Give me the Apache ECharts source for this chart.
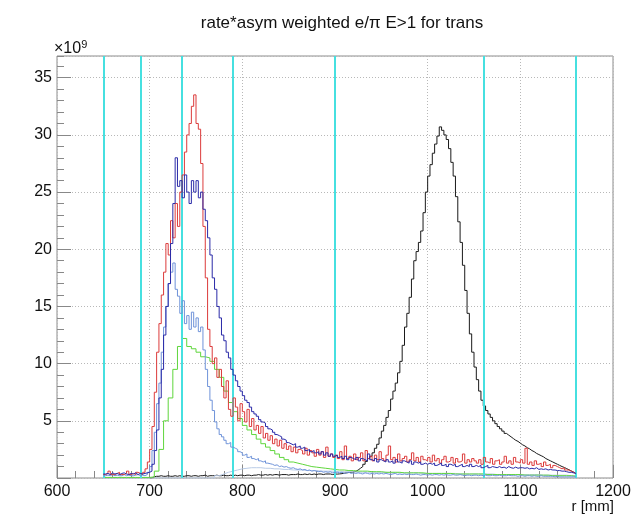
<!DOCTYPE html>
<html>
<head>
<meta charset="utf-8">
<script src="https://cdn.jsdelivr.net/npm/echarts@6/dist/echarts.min.js"></script>
<style>
html,body{margin:0;padding:0;background:#fff;}
#chart{width:636px;height:516px;}
</style>
</head>
<body>
<div id="chart"></div>
<script>
// ---- Data (values in units of 1e9) ----
// Fine histograms: 2.5 mm bins from 650 to 1160 mm
const fineStart = 650;
const fineWidth = 2.5;
const fineEnd = 1160;

const redVals = [
0.3,0.4,0.6,0.3,0.3,0.4,0.5,0.3,0.3,0.4,0.6,0.3,0.4,0.3,0.5,0.4,0.3,0.5,0.8,1.4,
2.5,4.5,7.5,11.0,13.5,16.0,18.0,20.5,19.5,22.5,21.0,24.0,22.0,25.0,26.5,28.5,30.0,31.0,32.5,33.5,31.0,30.5,27.5,22.0,
17.5,13.0,11.5,10.0,10.5,8.8,9.5,8.0,7.0,8.5,6.0,5.4,7.0,6.2,5.0,6.5,
5.8,4.9,6.0,4.5,5.2,4.2,4.6,3.9,4.5,3.5,3.9,3.3,3.7,3.0,3.4,2.8,3.3,2.6,3.0,2.5,
2.8,2.3,2.7,2.2,2.5,2.4,2.1,2.6,2.0,2.4,2.2,1.9,2.5,2.0,2.3,1.8,2.7,1.9,2.1,1.8,
2.0,1.7,2.3,1.6,2.8,1.7,1.9,1.5,2.1,1.6,1.8,2.2,1.5,2.4,1.7,1.9,1.5,2.0,1.6,2.3,
1.7,1.5,2.0,2.8,1.6,1.8,1.4,2.1,1.5,1.7,1.9,1.4,1.6,2.2,1.5,1.8,1.4,1.9,1.6,1.5,
1.8,1.4,2.0,1.5,1.7,1.3,1.6,1.9,1.4,1.5,1.8,1.3,1.7,1.4,1.5,2.1,1.3,1.6,1.4,1.7,
1.5,1.3,1.6,1.2,1.8,1.4,1.3,1.7,1.2,1.5,1.6,1.2,1.4,1.9,1.3,1.5,1.2,1.8,1.4,1.3,
1.6,1.3,2.6,1.2,1.4,1.1,1.5,1.2,1.3,1.0,1.4,1.1,1.2,0.9,1.1,1.0,0.9,0.8,0.9,0.7,0.7,0.6,0.5,0.4
];

const navyVals = [
0.35,0.4,0.3,0.45,0.35,0.4,0.3,0.4,0.45,0.35,0.3,0.4,0.35,0.45,0.3,0.4,0.35,0.4,0.45,0.5,
0.6,1.2,2.4,4.2,7.0,9.5,12.5,15.0,17.0,20.5,24.0,28.0,25.5,26.0,24.5,26.5,25.0,24.0,26.0,25.0,26.0,24.5,25.0,23.5,
22.5,21.0,19.5,17.5,16.5,15.0,14.0,12.5,12.0,11.0,10.5,9.5,9.0,8.5,8.0,7.6,
7.2,6.8,6.6,6.2,5.8,5.6,5.4,5.1,4.9,4.8,4.5,4.3,4.2,4.0,3.8,3.7,3.6,3.4,3.3,3.1,
3.0,2.9,3.0,2.7,2.8,2.6,2.7,2.4,2.5,2.3,2.4,2.2,2.3,2.1,2.3,2.0,2.2,1.9,2.1,1.9,
2.0,1.8,1.9,1.7,1.9,1.6,1.8,1.7,1.6,1.8,1.5,1.7,1.6,1.5,2.1,1.6,1.5,1.7,1.4,1.6,
1.5,1.4,1.6,1.4,1.5,1.3,1.6,1.4,1.3,1.5,1.4,1.3,1.5,1.2,1.4,1.3,1.4,1.2,1.3,1.2,
1.3,1.2,1.3,1.1,1.2,1.3,1.1,1.2,1.0,1.2,1.1,1.2,1.0,1.1,1.2,1.0,1.1,1.0,1.2,1.0,
1.1,1.0,1.1,0.9,1.0,1.1,0.9,1.0,0.95,0.9,1.0,0.9,0.95,0.85,1.0,0.9,0.85,0.95,0.85,0.9,
0.9,0.85,0.9,0.8,0.85,0.8,0.9,0.75,0.8,0.75,0.8,0.7,0.75,0.7,0.7,0.65,0.65,0.6,0.6,0.55,0.5,0.5,0.45,0.4
];

const cornflowerVals = [
0.2,0.25,0.2,0.3,0.2,0.25,0.2,0.2,0.3,0.2,0.25,0.2,0.2,0.25,0.3,0.2,0.25,0.2,0.3,0.5,
1.0,2.4,4.0,6.5,8.3,11.0,13.2,15.0,17.0,18.0,18.8,16.5,15.9,14.4,15.5,13.5,14.2,13.0,14.5,13.2,14.0,12.8,13.2,11.2,
9.5,8.0,6.8,5.9,4.9,4.3,3.8,3.6,3.3,3.0,3.1,2.7,2.6,2.5,2.3,2.2,
2.0,2.1,1.8,1.9,1.7,1.6,1.7,1.5,1.4,1.5,1.3,1.25,1.2,1.1,1.15,1.0,1.05,0.95,1.0,0.9,
0.85,0.9,0.8,0.75,0.8,0.7,0.75,0.65,0.7,0.6,0.65,0.6,0.55,0.6,0.5,0.55,0.5,0.55,0.45,0.5,
0.5,0.45,0.5,0.4,0.45,0.5,0.4,0.45,0.4,0.45,0.4,0.35,0.45,0.4,0.35,0.4,0.35,0.4,0.35,0.4,
0.35,0.4,0.35,0.3,0.35,0.4,0.3,0.35,0.3,0.35,0.3,0.35,0.3,0.3,0.35,0.3,0.25,0.3,0.3,0.25,
0.3,0.25,0.3,0.3,0.25,0.3,0.25,0.3,0.25,0.25,0.3,0.25,0.25,0.3,0.25,0.2,0.25,0.25,0.2,0.25,
0.25,0.2,0.25,0.2,0.25,0.2,0.2,0.25,0.2,0.2,0.25,0.2,0.2,0.2,0.25,0.2,0.2,0.2,0.15,0.2,
0.2,0.15,0.2,0.2,0.15,0.2,0.15,0.15,0.2,0.15,0.15,0.15,0.15,0.15,0.1,0.15,0.1,0.1,0.1,0.1,0.1,0.1,0.1,0.1
];

// Coarse histograms: 5 mm bins from 650 to 1160 mm
const coarseStart = 650;
const coarseWidth = 5;
const coarseEnd = 1160;

const greenVals = [
0.05,0.05,0.05,0.05,0.05,0.05,0.05,0.05,0.05,0.05,
0.1,0.6,2.5,5.0,7.0,9.5,11.5,12.2,11.5,11.3,
11.0,10.6,10.5,10.2,9.5,8.8,7.6,6.6,5.8,5.2,
4.6,4.2,3.8,3.4,3.0,2.7,2.4,2.1,1.8,1.6,
1.4,1.3,1.2,1.1,1.0,0.95,0.9,0.85,0.8,0.75,
0.7,0.7,0.65,0.65,0.6,0.6,0.6,0.55,0.55,0.55,
0.5,0.5,0.5,0.5,0.45,0.45,0.45,0.45,0.45,0.4,
0.4,0.4,0.4,0.4,0.4,0.35,0.35,0.35,0.35,0.35,
0.35,0.35,0.3,0.3,0.3,0.3,0.3,0.3,0.3,0.3,
0.25,0.25,0.25,0.25,0.25,0.25,0.2,0.2,0.2,0.2,
0.2,0.15
];

const paleVals = [
0,0,0,0,0,0,0,0,0,0,
0,0,0,0,0,0,0,0,0,0,
0,0,0,0,0.2,0.35,0.5,0.6,0.7,0.8,
0.85,0.9,0.9,0.9,0.85,0.85,0.8,0.8,0.75,0.75,
0.7,0.7,0.7,0.65,0.65,0.65,0.6,0.6,0.6,0.6,
0.55,0.55,0.55,0.55,0.5,0.5,0.5,0.5,0.5,0.5,
0.5,0.45,0.45,0.45,0.45,0.45,0.45,0.45,0.4,0.4,
0.4,0.4,0.4,0.4,0.4,0.4,0.35,0.35,0.35,0.35,
0.35,0.35,0.35,0.35,0.3,0.3,0.3,0.3,0.3,0.3,
0.3,0.3,0.3,0.3,0.25,0.25,0.25,0.25,0.25,0.25,
0.2,0.2
];

// Black histogram: 2.5 mm bins from 700 to 1160 mm
const blackStart = 700;
const blackWidth = 2.5;
const blackEnd = 1160;
const blackVals = [
0,0.1,0.15,0.15,0.2,0.15,0.15,0.2,0.15,0.15,
0.2,0.15,0.2,0.15,0.15,0.2,0.2,0.15,0.2,0.2,
0.15,0.2,0.2,0.25,0.15,0.2,0.2,0.2,0.25,0.2,
0.2,0.25,0.2,0.2,0.25,0.2,0.25,0.2,0.25,0.25,
0.2,0.25,0.25,0.2,0.25,0.25,0.3,0.25,0.25,0.3,
0.25,0.3,0.25,0.3,0.3,0.25,0.3,0.3,0.3,0.25,
0.3,0.3,0.3,0.35,0.3,0.3,0.35,0.3,0.35,0.3,
0.35,0.3,0.35,0.35,0.3,0.35,0.35,0.35,0.3,0.35,
0.34,0.36,0.38,0.42,0.45,0.48,0.5,0.53,0.58,0.7,
0.85,1.0,1.2,1.45,1.7,1.9,2.2,2.6,2.95,3.5,
4.1,4.6,5.3,5.9,6.9,7.6,8.3,9.2,10.2,11.6,
13.2,14.4,15.8,17.4,19.0,19.8,20.6,21.6,23.2,25.0,
26.4,27.4,28.4,29.2,29.9,30.7,30.4,30.0,29.6,28.8,
27.6,26.4,24.6,22.4,20.6,18.6,16.4,14.4,12.6,11.0,
9.7,8.6,7.6,6.8,6.3,5.9,5.6,5.3,5.0,4.75,
4.5,4.3,4.1,3.9,3.75,3.6,3.45,3.3,3.2,3.05,
2.9,2.8,2.65,2.55,2.4,2.3,2.15,2.05,1.95,1.85,
1.7,1.6,1.5,1.4,1.3,1.2,1.1,1.0,0.92,0.82,
0.72,0.62,0.52,0.42
];

// Vertical cut lines (mm)
const cutLines = [650, 690, 735, 790, 900, 1060, 1160];

// Axis settings
const xMin = 600, xMax = 1200, xStep = 100, xMinorStep = 20;
const yMin = 0, yMax = 36.9, yStep = 5, yMinorStep = 1;

const titleText = 'rate*asym weighted e/π E>1 for trans';
const xTitle = 'r [mm]';

// ---- Build histogram outlines ----
function histData(vals, start, width, end) {
  const pts = vals.map((v, i) => [start + i * width, v]);
  pts.push([end, vals[vals.length - 1]]);
  return pts;
}

const chart = echarts.init(document.getElementById('chart'), null, {renderer: 'canvas'});

const gridL = 57, gridR = 23, gridT = 56, gridB = 38;
const font = 'Liberation Sans, Arial, Helvetica, sans-serif';

function histSeries(name, data, color, z, extra) {
  return Object.assign({
    name: name,
    type: 'line',
    step: 'end',
    data: data,
    showSymbol: false,
    symbol: 'none',
    lineStyle: {color: color, width: 1},
    xAxisIndex: 0,
    yAxisIndex: 0,
    z: z,
    silent: true,
    animation: false
  }, extra || {});
}

const option = {
  animation: false,
  backgroundColor: '#ffffff',
  title: {
    text: titleText,
    left: 337,
    top: 10,
    textAlign: 'center',
    textStyle: {fontFamily: font, fontSize: 17, fontWeight: 'normal', color: '#111'}
  },
  grid: {
    left: gridL, right: gridR, top: gridT, bottom: gridB,
    show: true, borderColor: '#8c8c8c', borderWidth: 1, backgroundColor: 'transparent'
  },
  xAxis: [{
    type: 'value', min: xMin, max: xMax, interval: xStep,
    axisLine: {show: false},
    axisTick: {show: true, inside: true, length: 13, lineStyle: {color: '#888'}},
    minorTick: {show: true, splitNumber: xStep / xMinorStep, length: 7, lineStyle: {color: '#888'}},
    axisLabel: {fontFamily: font, fontSize: 16, color: '#111', margin: 6,
      formatter: function (v) { return String(v); }},
    splitLine: {show: true, lineStyle: {color: '#b8b8b8', type: [1, 2], width: 1}}
  }],
  yAxis: [{
    type: 'value', min: yMin, max: yMax, interval: yStep,
    axisLine: {show: false},
    axisTick: {show: true, inside: true, length: 14, lineStyle: {color: '#888'}},
    axisLabel: {
      fontFamily: font, fontSize: 16, color: '#111', margin: 5,
      showMaxLabel: false,
      formatter: function (v) { return (v > 0 && Math.abs(v % yStep) < 1e-9) ? String(v) : ''; }
    },
    splitLine: {show: true, lineStyle: {color: '#b8b8b8', type: [1, 2], width: 1}}
  }, {
    type: 'value', min: yMin, max: yMax, interval: yMinorStep, position: 'left', offset: 0,
    axisLine: {show: false},
    axisTick: {show: true, inside: true, length: 7, lineStyle: {color: '#888'}},
    axisLabel: {show: false},
    splitLine: {show: false}
  }],
  graphic: [{
    type: 'text', left: 54, top: 39,
    style: {
      text: '×10{sup|9}',
      font: '16px ' + font,
      fill: '#111',
      rich: {sup: {fontSize: 11, verticalAlign: 'top', padding: [0, 0, 8, 0], fontFamily: font, fill: '#111'}}
    }
  }, {
    type: 'text', right: 22, top: 499,
    style: {text: xTitle, font: '15px ' + font, fill: '#111', textAlign: 'right'}
  }],
  series: [
    histSeries('black', histData(blackVals, blackStart, blackWidth, blackEnd), '#1a1a1a', 3),
    histSeries('pale', histData(paleVals, coarseStart, coarseWidth, coarseEnd), '#b9cbe6', 3),
    histSeries('green', histData(greenVals, coarseStart, coarseWidth, coarseEnd), '#5fd63c', 4),
    histSeries('cornflower', histData(cornflowerVals, fineStart, fineWidth, fineEnd), '#6f93d9', 5),
    histSeries('red', histData(redVals, fineStart, fineWidth, fineEnd), '#dc3b3b', 6),
    histSeries('navy', histData(navyVals, fineStart, fineWidth, fineEnd), '#2a2aa8', 7, {
      markLine: {
        silent: true,
        symbol: ['none', 'none'],
        label: {show: false},
        lineStyle: {color: '#46e0e0', width: 2, type: 'solid'},
        data: cutLines.map(v => ({xAxis: v}))
      }
    })
  ]
};

chart.setOption(option);
</script>
</body>
</html>
